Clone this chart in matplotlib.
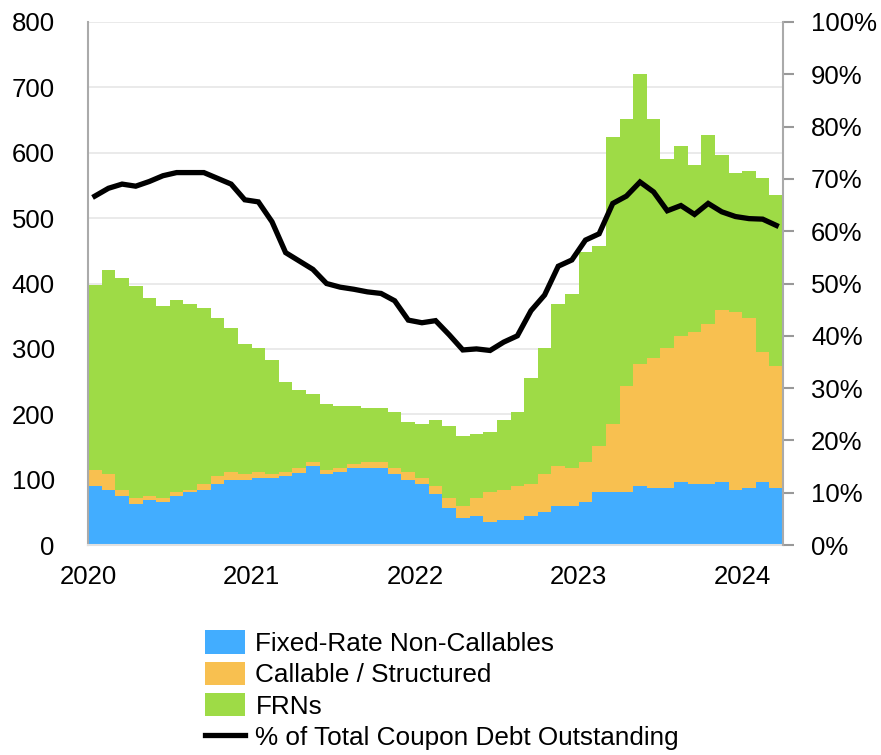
import numpy as np
import matplotlib.pyplot as plt

plt.rcParams['font.family'] = ['Liberation Sans', 'DejaVu Sans']

# ─────────────────────────────────────────────
# DATA (monthly, Jan 2020 - Mar 2024)
# ─────────────────────────────────────────────
months = np.arange(51)
year_labels = ['2020', '2021', '2022', '2023', '2024']

fixed = [90, 84, 75, 63, 69, 66, 75, 81, 84, 93, 99, 99, 102, 102, 105, 111, 121,
         109, 112, 118, 118, 118, 109, 99, 93, 78, 57, 41, 44, 35, 38,
         38, 44, 50, 60, 60, 66, 81, 81, 81, 90, 87, 87, 96, 93, 93, 96, 84, 87, 96, 87]

fixed_plus_call = [115, 109, 84, 72, 75, 72, 81, 84, 93, 105, 112, 109, 112, 109, 112, 118, 127,
                   115, 118, 124, 127, 127, 118, 112, 102, 90, 72, 60, 72, 81, 84,
                   90, 93, 109, 121, 118, 127, 151, 185, 243, 277, 286, 301, 320, 326, 338, 359, 356, 347, 295, 274]

total = [397, 421, 408, 396, 378, 366, 375, 369, 362, 347, 332, 307, 301, 283, 249, 237, 231,
         216, 213, 213, 210, 210, 203, 188, 185, 191, 182, 167, 170, 173, 191,
         203, 255, 301, 369, 384, 448, 457, 624, 651, 721, 651, 590, 611, 581, 627, 596, 569, 572, 562, 535]

pct_outstanding = [66.7, 68.2, 69.0, 68.6, 69.5, 70.6, 71.2, 71.2, 71.2, 70.1, 69.0, 66.0, 65.6,
                   61.8, 55.9, 54.3, 52.7, 50.0, 49.3, 48.9, 48.4, 48.1, 46.7, 43.0, 42.5,
                   42.9, 40.2, 37.3, 37.5, 37.2, 38.8, 40.0, 44.8, 47.8, 53.3, 54.5, 58.3,
                   59.5, 65.3, 66.7, 69.4, 67.5, 63.9, 64.9, 63.2, 65.3, 63.7, 62.8, 62.4, 62.3, 61.1]

callable_ = np.array(fixed_plus_call) - np.array(fixed)
frns = np.array(total) - np.array(fixed_plus_call)

# ─────────────────────────────────────────────
# PLOT
# ─────────────────────────────────────────────
fig = plt.figure(figsize=(8.81, 7.55), dpi=100)
ax = fig.add_axes([0.0999, 0.278, 0.789, 0.693])

c_blue, c_orange, c_green = '#42adff', '#f8c050', '#9edb46'
b1 = ax.bar(months, fixed, width=1.0, color=c_blue, linewidth=0)
b2 = ax.bar(months, callable_, bottom=fixed, width=1.0, color=c_orange, linewidth=0)
b3 = ax.bar(months, frns, bottom=fixed_plus_call, width=1.0, color=c_green, linewidth=0)

ax.set_xlim(-0.5, 50.5)
ax.set_ylim(0, 800)
ax.set_yticks(np.arange(0, 801, 100))
ax.set_xticks(np.arange(len(year_labels)) * 12 - 0.5)
ax.set_xticklabels(year_labels)
ax.set_axisbelow(True)
ax.yaxis.grid(True, color='#e8e8e8', linewidth=1.3)
ax.tick_params(axis='y', length=0, pad=24, labelsize=18.5)
ax.tick_params(axis='x', length=0, pad=14, labelsize=18.5)
for s in ['top', 'right']:
    ax.spines[s].set_visible(False)
ax.spines['left'].set_color('#aaaaaa')
ax.spines['left'].set_linewidth(1.5)
ax.spines['bottom'].set_color('#e0e0e0')
ax.spines['bottom'].set_linewidth(1.5)

ax2 = ax.twinx()
ln, = ax2.plot(months, pct_outstanding, color='black', linewidth=3.8, solid_joinstyle='miter')
ax2.set_ylim(0, 100)
ax2.set_yticks(np.arange(0, 101, 10))
ax2.set_yticklabels([f'{v}%' for v in range(0, 101, 10)])
ax2.tick_params(axis='y', length=8, width=1.5, color='#999999', pad=12, labelsize=18.5)
for s in ['top', 'left', 'bottom']:
    ax2.spines[s].set_visible(False)
ax2.spines['right'].set_color('#aaaaaa')
ax2.spines['right'].set_linewidth(1.5)

fig.legend([b1, b2, b3, ln],
           ['Fixed-Rate Non-Callables', 'Callable / Structured', 'FRNs',
            '% of Total Coupon Debt Outstanding'],
           loc='upper left', bbox_to_anchor=(0.2327, 0.1652), frameon=False,
           fontsize=18.8, handlelength=1.53, handleheight=1.0,
           handletextpad=0.4, labelspacing=0.22, borderaxespad=0, borderpad=0)

plt.savefig('out.png', dpi=100)
plt.close()
